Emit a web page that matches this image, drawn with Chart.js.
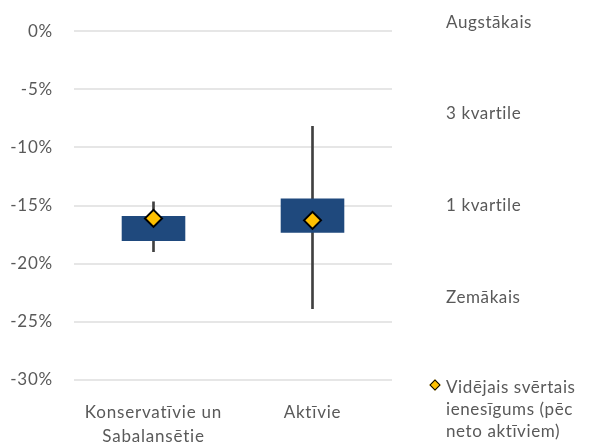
<!DOCTYPE html>
<html>
<head>
<meta charset="utf-8">
<script src="https://cdn.jsdelivr.net/npm/chart.js@4/dist/chart.umd.min.js"></script>
<style>
  body { margin: 0; background: #fff; }
  #wrap { position: relative; width: 589px; height: 448px; }
  .side { position: absolute; left: 446px; font: 17px Lato, sans-serif; letter-spacing: 0.6px; color: #595959; line-height: 22px; white-space: nowrap; }
  .mark { position: absolute; left: 431px; top: 381px; width: 6px; height: 6px; background: #FFC000; border: 1.5px solid #000; transform: rotate(45deg); }
</style>
</head>
<body>
<div id="wrap">
  <canvas id="chart" width="589" height="448"></canvas>
  <div class="side" style="top:11px">Augstākais</div>
  <div class="side" style="top:102px">3 kvartile</div>
  <div class="side" style="top:194px">1 kvartile</div>
  <div class="side" style="top:286px">Zemākais</div>
  <div class="mark"></div>
  <div class="side" style="top:376px">Vidējais svērtais<br>ienesīgums (pēc<br>neto aktīviem)</div>
</div>
<script>
const categories = [['Konservatīvie un', 'Sabalansētie'], 'Aktīvie']
const minValues = [-18.96, -23.86]
const maxValues = [-14.67, -8.18]
const q1Values = [-18.05, -17.34]
const q3Values = [-15.9, -14.4]
const meanValues = [-16.1, -16.27]
const yTicks = [0, -5, -10, -15, -20, -25, -30]

const font = { family: 'Lato', size: 17, lineHeight: 1.4 }

// spaced-out letters, like the original office chart
const spacing = {
    id: 'spacing',
    beforeLayout: chart => { chart.ctx.letterSpacing = '0.8px' },
    beforeDraw: chart => { chart.ctx.letterSpacing = '0.8px' }
}

new Chart('chart', {
    type: 'bar',
    plugins: [spacing],
    data: {
        labels: categories,
        datasets: [
            {
                type: 'line',
                label: 'Vidējais',
                data: meanValues,
                showLine: false,
                pointStyle: 'rectRot',
                pointRadius: 8.5,
                pointBackgroundColor: '#FFC000',
                pointBorderColor: '#000',
                pointBorderWidth: 2,
                order: 0
            },
            {
                label: 'Kvartiles',
                data: q1Values.map((v, i) => [v, q3Values[i]]),
                backgroundColor: '#1F497D',
                grouped: false,
                categoryPercentage: 1,
                barPercentage: 0.4,
                order: 1
            },
            {
                label: 'Diapazons',
                data: minValues.map((v, i) => [v, maxValues[i]]),
                backgroundColor: '#404040',
                grouped: false,
                barThickness: 2,
                order: 2
            }
        ]
    },
    options: {
        responsive: false,
        animation: false,
        layout: { padding: { top: 23, right: 197, bottom: 0, left: 0 } },
        plugins: { legend: { display: false }, tooltip: { enabled: false } },
        scales: {
            x: {
                grid: { display: false },
                border: { display: false },
                ticks: { font: font, color: '#595959', padding: 13, maxRotation: 0 },
                afterFit: s => { s.height = 68 }
            },
            y: {
                min: -30,
                max: 0,
                afterBuildTicks: s => { s.ticks = yTicks.map(v => ({ value: v })) },
                grid: { color: '#E6E6E6', lineWidth: 2, drawTicks: false },
                border: { display: false },
                ticks: { font: { family: 'Lato', size: 17 }, color: '#595959', padding: 21, callback: v => v + '%' },
                afterFit: s => { s.width = 74 }
            }
        }
    }
})
</script>
</body>
</html>
